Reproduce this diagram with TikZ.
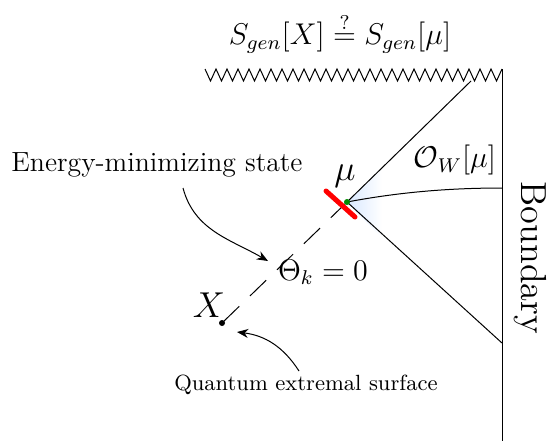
\documentclass[tikz,border=0pt]{standalone}
\usetikzlibrary{arrows.meta}
\begin{document}
\begin{tikzpicture}[x=0.4pt,y=-0.4pt,>={Stealth[length=4.5pt,width=3.6pt]}, every node/.style={font=\large}]
        \useasboundingbox (0,0) rectangle (550,441);
        % points
        \coordinate (mu) at (347,202);
        \coordinate (qes) at (222,323);
        \coordinate (top) at (471,81);
        \coordinate (low) at (502,343);
        \coordinate (mid) at (502,188);
        % shading near mu
        \shade[left color=cyan!40!blue!15,right color=white] (mu) -- (382,168) -- (382,238) -- cycle;
        % singularity
        \draw (205,69) \foreach \i in {0,...,26} {-- ({205+11*\i+5.5},81) -- ({205+11*(\i+1)},69)};
        % boundary
        \draw (502,69) -- (502,441);
        \draw (mu) -- (top);
        \draw (mu) -- (low);
        \draw (mu) .. controls (400,192) and (450,188) .. (mid);
        \draw[dashed, dash pattern=on 9pt off 6pt] (mu) -- (qes);
        \draw[red, line width=2pt, line cap=round] (326,191) -- (355,217);
        \fill[green!55!black] (mu) circle (3);
        \fill (qes) circle (3);
        % labels
        \node (title) at (340,33) {$S_{gen}[X] \stackrel{?}{=} S_{gen}[\mu]$};
        \node[font=\fontsize{14}{16}\selectfont] (mulabel) at (345,176) {$\mu$};
        \node (ow) at (455,160) {$\mathcal{O}_W[\mu]$};
        \node (theta) at (323,272) {$\Theta_k = 0$};
        \node[font=\fontsize{14}{16}\selectfont] (xlabel) at (209,305) {$X$};
        \node[font=\fontsize{11.1}{13}\selectfont] (ems) at (157,165) {Energy-minimizing state};
        \node[font=\fontsize{8.8}{10}\selectfont] (qlabel) at (306,385) {Quantum extremal surface};
        \node[rotate=-90, font=\fontsize{14.5}{16}\selectfont] (bdy) at (530,258) {Boundary};
        % arrows
        \draw[->] (183,188) to[out=-75,in=150] (268,261);
        \draw[->] (299,371) to[bend right=25] (237,332);
    \end{tikzpicture}
\end{document}
